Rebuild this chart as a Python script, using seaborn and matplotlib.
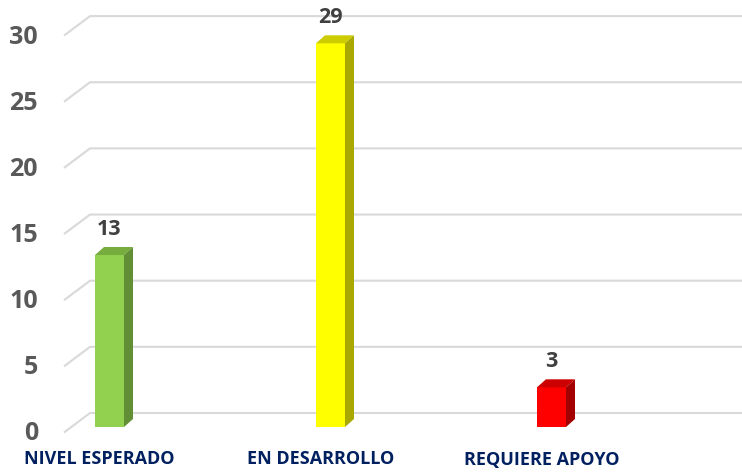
import matplotlib
matplotlib.use('Agg')
import matplotlib.pyplot as plt
from matplotlib.patches import Polygon
import seaborn as sns
import pandas as pd

# data
categories = ['NIVEL ESPERADO', 'EN DESARROLLO', 'REQUIERE APOYO']
values = [13, 29, 3]
y_ticks = [0, 5, 10, 15, 20, 25, 30]

front_colors = ['#92D050', '#FFFF00', '#FF0000']
top_colors = ['#77AD3F', '#CCCC00', '#CC0000']
side_colors = ['#628F36', '#A8A800', '#A30000']

# layout (pixels of a 742x472 canvas)
W, H = 742, 472
X0_PX, STEP_PX = 109.5, 221.0      # centre of first bar, spacing between bars
BASE_PX, UNIT_PX = 427.0, 13.23    # bar base row and pixels per unit
BAR_W = 29 / STEP_PX
DEPTH_X, DEPTH_Y = 9 / STEP_PX, 8 / UNIT_PX
FRONT_X, BACK_X = 64, 90


def px_x(px):
    return (px - X0_PX) / STEP_PX


sns.set_style('white')
plt.rcParams['font.family'] = ['Open Sans', 'DejaVu Sans']

fig = plt.figure(figsize=(W / 100, H / 100), dpi=100)
ax = fig.add_axes([0, 0, 1, 1])

df = pd.DataFrame({'cat': categories, 'val': values})
sns.barplot(data=df, x='cat', y='val', hue='cat', palette=front_colors,
            saturation=1, width=BAR_W, linewidth=0, legend=False, ax=ax, zorder=3)

ax.set_xlim(px_x(0), px_x(W))
ax.set_ylim((BASE_PX - H) / UNIT_PX, BASE_PX / UNIT_PX)
ax.axis('off')

# perspective grid: front edge -> back wall
front_off = -5.5 / UNIT_PX
back_off = 14 / UNIT_PX
for v in y_ticks:
    ax.plot([px_x(FRONT_X), px_x(BACK_X), px_x(W)],
            [v + front_off, v + back_off, v + back_off],
            color='#D9D9D9', lw=1.5, zorder=1, solid_capstyle='butt')
    ax.text(px_x(38), v + front_off - 1.5 / UNIT_PX, str(v), ha='right', va='center',
            fontsize=18, fontweight='bold', color='#595959')

# 3d faces and labels of the bars
for i, p in enumerate(ax.patches):
    x0, w, h = p.get_x(), p.get_width(), p.get_height()
    top = Polygon([(x0, h), (x0 + DEPTH_X, h + DEPTH_Y),
                   (x0 + w + DEPTH_X, h + DEPTH_Y), (x0 + w, h)],
                  closed=True, facecolor=top_colors[i], lw=0, zorder=3)
    side = Polygon([(x0 + w, 0), (x0 + w + DEPTH_X, DEPTH_Y),
                    (x0 + w + DEPTH_X, h + DEPTH_Y), (x0 + w, h)],
                   closed=True, facecolor=side_colors[i], lw=0, zorder=3)
    ax.add_patch(top)
    ax.add_patch(side)
    ax.text(x0 + w / 2, h + 26 / UNIT_PX, str(values[i]), ha='center', va='center',
            fontsize=15.5, fontweight='bold', color='#404040')
    ax.text(x0 + w / 2 - 10 / STEP_PX, (BASE_PX - 459.5) / UNIT_PX, categories[i],
            ha='center', va='center', fontsize=13, fontweight='bold', color='#002060')

fig.savefig('out.png', dpi=100)
